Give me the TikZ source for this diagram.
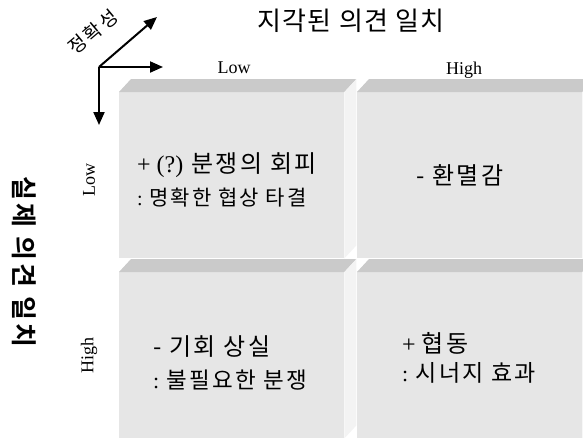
\documentclass[tikz,border=0pt]{standalone}
\usepackage{fontspec}
\setmainfont{Liberation Serif}
\newfontfamily\kr[LetterSpace=10]{Noto Sans CJK KR}
\newfontfamily\krt[LetterSpace=5]{Noto Sans CJK KR}
\newfontfamily\kra[LetterSpace=12]{Noto Sans CJK KR}
\newfontfamily\krb[LetterSpace=12]{Noto Sans CJK KR Bold}
\usetikzlibrary{arrows.meta}
\definecolor{faceg}{RGB}{230,230,230}
\definecolor{topg}{RGB}{202,202,202}
\definecolor{sideg}{RGB}{243,243,243}
\tikzset{
  face/.style={fill=faceg, draw=none, minimum width=225pt, minimum height=166pt, inner sep=0pt, anchor=north west},
  axisarrow/.style={line width=2pt, -{Triangle[length=13pt,width=11pt]}},
  txt/.style={anchor=west, inner sep=0pt},
  lvl/.style={inner sep=0pt, font=\fontsize{18}{20}\selectfont},
}
\newcommand{\bevel}[1]{%
  \fill[topg] (#1.north west) -- ++(12,-13) -- ([shift={(12,-13)}]#1.north east) -- (#1.north east) -- cycle;
  \fill[sideg] (#1.north east) -- ++(12,-13) -- ([shift={(12,-13)}]#1.south east) -- (#1.south east) -- cycle;
}
\begin{document}
\begin{tikzpicture}[x=1pt,y=-1pt]
\useasboundingbox (0,0) rectangle (583,437);
% boxes
\node[face] (b1) at (119,92) {};
\node[face] (b2) at (357,92) {};
\node[face] (b3) at (119,272) {};
\node[face] (b4) at (357,272) {};
\bevel{b1}\bevel{b2}\bevel{b3}\bevel{b4}
% axes
\coordinate (o) at (99,67);
\coordinate (ax) at (163,67);
\coordinate (ay) at (99,125);
\coordinate (ad) at (157,17);
\draw[axisarrow] (o) -- (ax);
\draw[axisarrow] (o) -- (ay);
\draw[axisarrow] (o) -- (ad);
\node[inner sep=0pt, rotate=40, font=\kra\fontsize{19}{21}\selectfont] (acc) at (93,32) {정확성};
% titles
\node[inner sep=0pt, font=\krt\fontsize{26}{28}\selectfont] (ttop) at (351,21) {지각된 의견 일치};
\node[inner sep=0pt, rotate=-90, font=\krb\fontsize{26}{28}\selectfont] (tleft) at (24,262) {실제 의견 일치};
% level labels
\node[lvl] (lowx) at (234,68) {Low};
\node[lvl] (highx) at (464,70) {High};
\node[lvl, rotate=90] (lowy) at (89,180) {Low};
\node[lvl, rotate=90] (highy) at (89,355) {High};
% contents
\node[txt, font=\fontsize{24}{26}\selectfont] (t1a) at (137,165) {+ (?) {\kr\fontsize{24}{26}\selectfont 분쟁의 회피}};
\node[txt, font=\fontsize{20}{22}\selectfont] (t1b) at (137,198) {: {\kr\fontsize{21}{23}\selectfont 명확한 협상 타결}};
\node[txt, font=\kr\fontsize{24}{26}\selectfont] (t2a) at (416,175) {- 환멸감};
\node[txt, font=\kr\fontsize{24}{26}\selectfont] (t3a) at (153,347) {- 기회 상실};
\node[txt, font=\fontsize{22}{24}\selectfont] (t3b) at (153,380) {: {\kr\fontsize{22.5}{24}\selectfont 불필요한 분쟁}};
\node[txt, font=\fontsize{24}{26}\selectfont] (t4a) at (402,343) {+ {\kr\fontsize{24}{26}\selectfont 협동}};
\node[txt, font=\fontsize{22}{24}\selectfont] (t4b) at (402,373) {: {\kr\fontsize{23}{25}\selectfont 시너지 효과}};
\end{tikzpicture}
\end{document}
